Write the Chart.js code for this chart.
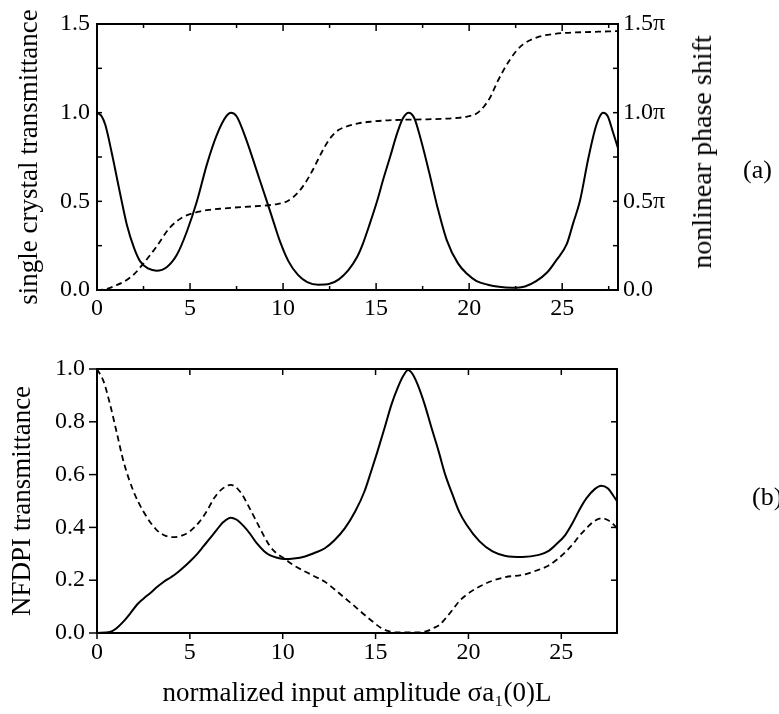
<!DOCTYPE html>
<html><head><meta charset="utf-8">
<script src="https://cdn.jsdelivr.net/npm/chart.js@4.4.1/dist/chart.umd.min.js"></script>
<style>
html,body{margin:0;padding:0;background:#fff;}
#wrap{position:relative;width:779px;height:714px;overflow:hidden;background:#fff;}
canvas{position:absolute;left:0;}
.lbl{position:absolute;font-family:'Liberation Serif','DejaVu Serif',serif;color:#000;white-space:nowrap;line-height:1;}
</style></head><body>
<div id="wrap">
<canvas id="cA" width="779" height="340" style="top:0;width:779px;height:340px"></canvas>
<canvas id="cB" width="779" height="374" style="top:340px;width:779px;height:374px"></canvas>
<div class="lbl" style="font-size:28px;left:702px;top:152px;transform:translate(-50%,-50%) rotate(-90deg);">nonlinear phase shift</div>
<div class="lbl" style="font-size:26px;left:743px;top:157px;">(a)</div>
<div class="lbl" style="font-size:26px;left:752px;top:484px;">(b)</div>
</div>
<script>
// ---- tick values and labels ----
const xTicks = [0, 5, 10, 15, 20, 25];
const xTickLabels = ['0', '5', '10', '15', '20', '25'];
const xMinorTicks = [2.5, 7.5, 12.5, 17.5, 22.5, 27.5];
const yTicksA = [0, 0.5, 1.0, 1.5];
const yTickLabelsA = ['0.0', '0.5', '1.0', '1.5'];
const yMinorTicksA = [0.25, 0.75, 1.25];
const phaseTickLabels = ['0.0', '0.5\u03c0', '1.0\u03c0', '1.5\u03c0'];
const yTicksB = [0, 0.2, 0.4, 0.6, 0.8, 1.0];
const yTickLabelsB = ['0.0', '0.2', '0.4', '0.6', '0.8', '1.0'];

// ---- (a) single crystal transmittance (solid) ----
const xSolidA = [0, 0.25, 0.45, 0.8, 1.25, 1.6, 2.0, 2.33, 2.77, 3.2, 3.76, 4.3, 4.83, 5.37, 5.91, 6.44, 6.95, 7.2, 7.5, 8.05, 8.59, 9.13, 9.5, 9.85, 10.3, 10.8, 11.3, 11.9, 12.5, 13.0, 13.5, 14.0, 14.25, 14.65, 15.05, 15.4, 15.75, 16.15, 16.45, 16.75, 17.05, 17.4, 17.86, 18.29, 18.8, 19.4, 19.9, 20.4, 21.0, 21.6, 22.3, 23.0, 23.6, 24.2, 24.7, 25.25, 25.6, 25.95, 26.4, 26.75, 27.0, 27.2, 27.45, 27.7, 28.0];
const solidA = [1.00, 0.98, 0.93, 0.77, 0.54, 0.37, 0.235, 0.16, 0.12, 0.109, 0.13, 0.20, 0.33, 0.50, 0.71, 0.875, 0.98, 1.00, 0.98, 0.84, 0.67, 0.50, 0.38, 0.27, 0.16, 0.085, 0.045, 0.03, 0.035, 0.06, 0.11, 0.19, 0.25, 0.37, 0.50, 0.63, 0.75, 0.89, 0.97, 1.00, 0.97, 0.85, 0.66, 0.47, 0.28, 0.15, 0.09, 0.05, 0.03, 0.018, 0.013, 0.02, 0.05, 0.10, 0.17, 0.26, 0.38, 0.50, 0.74, 0.90, 0.975, 1.00, 0.98, 0.90, 0.80];

// ---- (a) nonlinear phase shift, in units of pi (dashed) ----
const xPhaseA = [0, 0.5, 1.0, 1.45, 2.0, 2.5, 3.2, 3.9, 4.6, 5.4, 6.0, 6.8, 7.8, 9.0, 9.6, 10.1, 10.5, 10.85, 11.2, 11.55, 11.9, 12.25, 12.6, 13.0, 13.5, 14.05, 14.8, 15.5, 16.5, 17.5, 18.5, 19.3, 19.9, 20.4, 20.8, 21.15, 21.5, 21.85, 22.2, 22.55, 22.9, 23.3, 23.8, 24.5, 25.2, 26.5, 28.0];
const phaseA = [0.0, 0.005, 0.025, 0.047, 0.09, 0.15, 0.245, 0.35, 0.41, 0.44, 0.452, 0.46, 0.468, 0.476, 0.483, 0.495, 0.52, 0.555, 0.605, 0.668, 0.74, 0.81, 0.865, 0.903, 0.925, 0.94, 0.95, 0.956, 0.96, 0.962, 0.965, 0.97, 0.978, 0.995, 1.035, 1.09, 1.17, 1.24, 1.30, 1.35, 1.385, 1.41, 1.43, 1.443, 1.45, 1.455, 1.46];

// ---- (b) NFDPI transmittance, solid ----
const xSolidB = [0, 0.7, 1.0, 1.43, 1.8, 2.15, 2.5, 2.86, 3.2, 3.58, 4.0, 4.3, 4.65, 5.0, 5.4, 5.75, 6.1, 6.45, 6.8, 7.2, 7.5, 7.9, 8.25, 8.6, 9.0, 9.3, 9.7, 10.1, 10.6, 11.2, 11.7, 12.25, 12.8, 13.35, 13.9, 14.4, 14.75, 15.1, 15.5, 15.85, 16.2, 16.5, 16.75, 17.0, 17.3, 17.65, 18.0, 18.4, 18.75, 19.15, 19.5, 19.9, 20.6, 21.3, 22.0, 22.9, 23.8, 24.3, 24.7, 25.2, 25.6, 26.0, 26.35, 26.8, 27.15, 27.5, 27.9, 28.0];
const solidB = [0, 0.004, 0.015, 0.044, 0.075, 0.107, 0.13, 0.151, 0.172, 0.193, 0.212, 0.227, 0.248, 0.271, 0.30, 0.33, 0.36, 0.391, 0.42, 0.437, 0.43, 0.405, 0.375, 0.34, 0.31, 0.295, 0.285, 0.28, 0.282, 0.29, 0.303, 0.32, 0.352, 0.397, 0.46, 0.536, 0.61, 0.687, 0.78, 0.864, 0.93, 0.975, 0.996, 0.98, 0.935, 0.864, 0.78, 0.687, 0.60, 0.523, 0.46, 0.41, 0.347, 0.309, 0.292, 0.288, 0.296, 0.31, 0.334, 0.37, 0.416, 0.47, 0.51, 0.545, 0.558, 0.548, 0.51, 0.50];

// ---- (b) NFDPI transmittance, dashed ----
const xDashedB = [0, 0.36, 0.71, 1.07, 1.43, 1.97, 2.5, 3.2, 3.7, 4.1, 4.6, 5.0, 5.5, 5.9, 6.3, 6.65, 7.2, 7.7, 8.2, 8.75, 9.3, 9.7, 10.1, 10.6, 11.2, 11.7, 12.25, 12.8, 13.35, 13.9, 14.4, 14.9, 15.3, 15.7, 16.2, 17.3, 17.8, 18.1, 18.45, 18.7, 19.15, 19.5, 19.9, 20.6, 21.3, 22.0, 22.9, 23.8, 24.3, 24.8, 25.2, 25.6, 26.0, 26.4, 26.8, 27.2, 27.5, 27.9, 28.0];
const dashedB = [1.0, 0.952, 0.864, 0.757, 0.649, 0.536, 0.46, 0.391, 0.368, 0.363, 0.37, 0.385, 0.42, 0.46, 0.51, 0.54, 0.561, 0.536, 0.475, 0.40, 0.33, 0.30, 0.281, 0.256, 0.233, 0.215, 0.195, 0.165, 0.132, 0.10, 0.069, 0.04, 0.019, 0.007, 0.002, 0.002, 0.008, 0.018, 0.031, 0.05, 0.088, 0.12, 0.145, 0.176, 0.198, 0.212, 0.22, 0.24, 0.255, 0.28, 0.305, 0.335, 0.37, 0.40, 0.425, 0.435, 0.428, 0.405, 0.395];

const pts = (xs, ys) => xs.map((x, i) => ({x: x, y: ys[i]}));

Chart.defaults.font.family = "'Liberation Serif', 'DejaVu Serif', serif";
Chart.defaults.color = '#000';

const framePlugin = {
  id: 'frame',
  afterDatasetsDraw(chart, args, opts) {
    const {ctx, chartArea: a} = chart;
    ctx.save();
    ctx.strokeStyle = '#000';
    ctx.lineWidth = opts.lineWidth;
    ctx.strokeRect(a.left, a.top, a.right - a.left, a.bottom - a.top);
    ctx.lineWidth = opts.tickWidth;
    for (const m of opts.marks) {
      const s = chart.scales[m.scale];
      const sign = m.out ? -1 : 1;
      for (const v of m.values) {
        const p = s.getPixelForValue(v);
        ctx.beginPath();
        if (m.side === 'bottom') { ctx.moveTo(p, a.bottom); ctx.lineTo(p, a.bottom - sign * m.len); }
        else if (m.side === 'top') { ctx.moveTo(p, a.top); ctx.lineTo(p, a.top + sign * m.len); }
        else if (m.side === 'left') { ctx.moveTo(a.left, p); ctx.lineTo(a.left + sign * m.len, p); }
        else { ctx.moveTo(a.right, p); ctx.lineTo(a.right - sign * m.len, p); }
        ctx.stroke();
      }
    }
    ctx.restore();
  }
};

function tickSet(values, labels) {
  return {
    afterBuildTicks: s => { s.ticks = values.map(v => ({value: v})); },
    callback: (val) => { const i = values.indexOf(val); return i >= 0 ? labels[i] : ''; }
  };
}

const noGrid = {display: false, drawTicks: false};
const solidStyle = {borderColor: '#000', borderWidth: 2, pointRadius: 0, showLine: true, cubicInterpolationMode: 'monotone', fill: false};
const dashStyle = Object.assign({}, solidStyle, {borderDash: [6, 4], borderWidth: 1.8});

const xA = tickSet(xTicks, xTickLabels);
const yA = tickSet(yTicksA, yTickLabelsA);
const y1A = tickSet(yTicksA, phaseTickLabels);

new Chart(document.getElementById('cA'), {
  type: 'scatter',
  data: {datasets: [
    Object.assign({label: 'single crystal transmittance', data: pts(xSolidA, solidA), yAxisID: 'y'}, solidStyle),
    Object.assign({label: 'nonlinear phase shift', data: pts(xPhaseA, phaseA), yAxisID: 'y1'}, dashStyle)
  ]},
  options: {
    responsive: false, animation: false,
    layout: {padding: {top: 24, left: 0, right: 0, bottom: 0}},
    plugins: {legend: {display: false}, tooltip: {enabled: false},
      frame: {lineWidth: 2, tickWidth: 1.5, marks: [
        {scale: 'x', side: 'bottom', values: xTicks, len: 7},
        {scale: 'x', side: 'bottom', values: xMinorTicks, len: 4},
        {scale: 'x', side: 'top', values: xTicks, len: 7},
        {scale: 'x', side: 'top', values: xMinorTicks, len: 4},
        {scale: 'y', side: 'left', values: yTicksA, len: 5},
        {scale: 'y', side: 'left', values: yMinorTicksA, len: 5},
        {scale: 'y', side: 'right', values: yTicksA, len: 5},
        {scale: 'y', side: 'right', values: yMinorTicksA, len: 5}
      ]}},
    scales: {
      x: {type: 'linear', min: 0, max: 28, grid: noGrid, border: {display: false},
        afterBuildTicks: xA.afterBuildTicks, afterFit: s => { s.height = 50; },
        ticks: {callback: xA.callback, padding: 4, font: {size: 24}, maxRotation: 0, autoSkip: false}},
      y: {type: 'linear', position: 'left', min: 0, max: 1.5, grid: noGrid, border: {display: false},
        afterBuildTicks: yA.afterBuildTicks, afterFit: s => { s.width = 97; },
        ticks: {callback: yA.callback, padding: 7, font: {size: 24}},
        title: {display: true, text: 'single crystal transmittance', font: {size: 27}, padding: {top: 14, bottom: 0}}},
      y1: {type: 'linear', position: 'right', min: 0, max: 1.5, grid: noGrid, border: {display: false},
        afterBuildTicks: y1A.afterBuildTicks, afterFit: s => { s.width = 161; },
        ticks: {callback: y1A.callback, padding: 5, font: {size: 24}}}
    }
  },
  plugins: [framePlugin]
});

const xB = tickSet(xTicks, xTickLabels);
const yB = tickSet(yTicksB, yTickLabelsB);

new Chart(document.getElementById('cB'), {
  type: 'scatter',
  data: {datasets: [
    Object.assign({label: 'NFDPI transmittance (solid)', data: pts(xSolidB, solidB)}, solidStyle),
    Object.assign({label: 'NFDPI transmittance (dashed)', data: pts(xDashedB, dashedB)}, dashStyle)
  ]},
  options: {
    responsive: false, animation: false,
    layout: {padding: {top: 29, left: 0, right: 162, bottom: 0}},
    plugins: {legend: {display: false}, tooltip: {enabled: false},
      frame: {lineWidth: 2, tickWidth: 1.5, marks: [
        {scale: 'x', side: 'bottom', values: xTicks, len: 6, out: true},
        {scale: 'x', side: 'top', values: xTicks, len: 6},
        {scale: 'y', side: 'left', values: yTicksB, len: 8, out: true},
        {scale: 'y', side: 'right', values: yTicksB, len: 6}
      ]}},
    scales: {
      x: {type: 'linear', min: 0, max: 28, grid: noGrid, border: {display: false},
        afterBuildTicks: xB.afterBuildTicks, afterFit: s => { s.height = 81; },
        ticks: {callback: xB.callback, padding: 5, font: {size: 24}, maxRotation: 0, autoSkip: false},
        title: {display: true, text: 'normalized input amplitude \u03c3a\u2081(0)L', font: {size: 27}, padding: {top: 0, bottom: 4}}},
      y: {type: 'linear', position: 'left', min: 0, max: 1.0, grid: noGrid, border: {display: false},
        afterBuildTicks: yB.afterBuildTicks, afterFit: s => { s.width = 97; },
        ticks: {callback: yB.callback, padding: 12, font: {size: 24}},
        title: {display: true, text: 'NFDPI transmittance', font: {size: 27}, padding: {top: 7, bottom: 0}}}
    }
  },
  plugins: [framePlugin]
});
</script>
</body></html>
